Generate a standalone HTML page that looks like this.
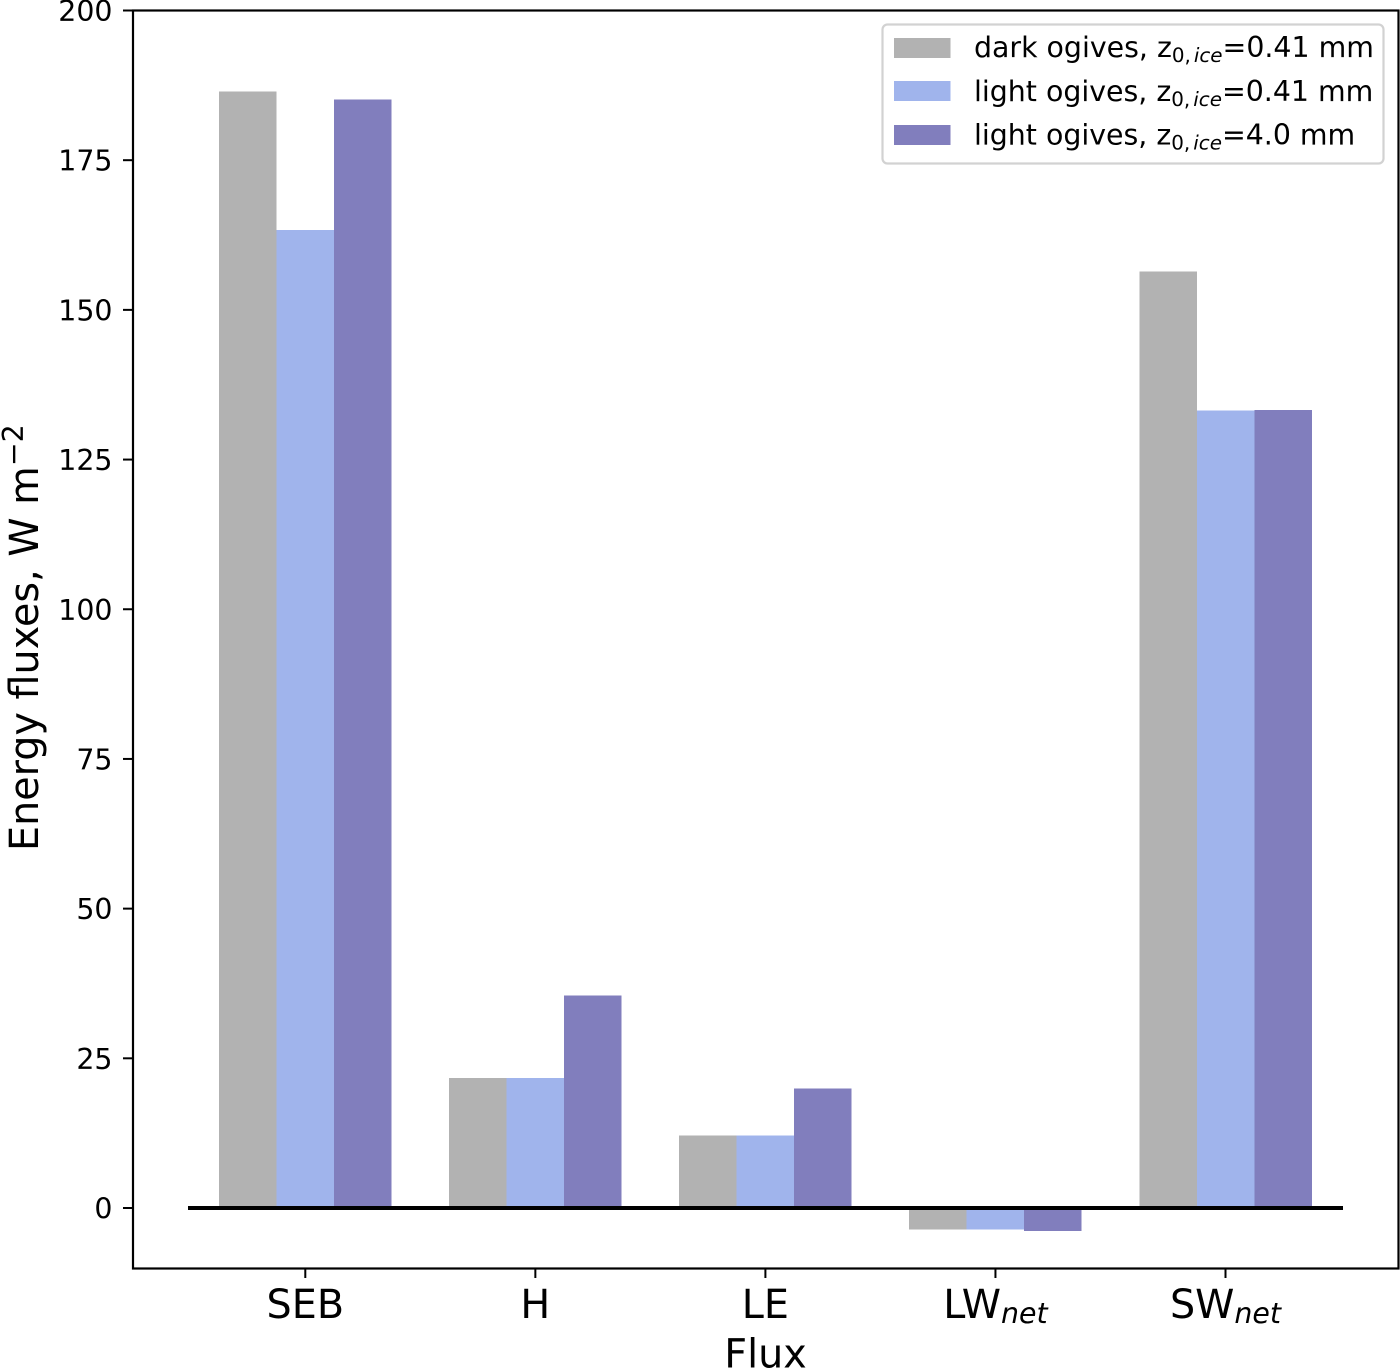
<!DOCTYPE html>
<html lang="en">
<head>
<meta charset="utf-8">
<title>Energy fluxes bar chart</title>
<style>
  html, body { margin: 0; padding: 0; background: #fff; }
  svg { display: block; }
  text { font-family: "DejaVu Sans", "Liberation Sans", sans-serif; fill: #000; }
  .sub { font-style: italic; }
</style>
</head>
<body>
<svg id="chart" xmlns="http://www.w3.org/2000/svg" width="1400" height="1370" viewBox="0 0 1400 1370">
  <rect x="0" y="0" width="1400" height="1370" fill="#fff"/>
  <g id="bars" shape-rendering="crispEdges"></g>
  <line id="zero-line" stroke="#000" stroke-width="4"/>
  <g id="ticks"></g>
  <rect x="133" y="10.5" width="1265.5" height="1258" fill="none" stroke="#000" stroke-width="2.2"/>

  <text x="38" y="851" font-size="39.7" transform="rotate(-90 38 851)">Energy fluxes, W m<tspan font-size="28.4" dy="-15">−2</tspan></text>
  <text x="765.5" y="1367.5" font-size="39.7" text-anchor="middle">Flux</text>

  <g>
    <rect x="882.5" y="24.5" width="501" height="139" rx="5" ry="5" fill="#fff" fill-opacity="0.9" stroke="#d2d2d2" stroke-width="2.2"/>
    <g>
      <rect x="894" y="38" width="56.5" height="20" fill="#b2b2b2"/>
      <text x="974" y="57" font-size="28.4">dark ogives, z<tspan font-size="19.9" dy="5">0,</tspan><tspan class="sub" font-size="19.9" dx="3">ice</tspan><tspan dy="-5">=0.41 mm</tspan></text>
    </g>
    <g>
      <rect x="894" y="81" width="56.5" height="20" fill="#a0b4ec"/>
      <text x="974" y="101" font-size="28.4">light ogives, z<tspan font-size="19.9" dy="5">0,</tspan><tspan class="sub" font-size="19.9" dx="3">ice</tspan><tspan dy="-5">=0.41 mm</tspan></text>
    </g>
    <g>
      <rect x="894" y="125" width="56.5" height="20" fill="#817ebd"/>
      <text x="974" y="144.7" font-size="28.4">light ogives, z<tspan font-size="19.9" dy="5">0,</tspan><tspan class="sub" font-size="19.9" dx="3">ice</tspan><tspan dy="-5">=4.0 mm</tspan></text>
    </g>
  </g>
</svg>
<script>
const categories = ['SEB', 'H', 'LE', 'LW', 'SW'];
const categorySubscripts = ['', '', '', 'net', 'net'];
const darkOgives041 = [186.5, 21.7, 12.1, -3.6, 156.4];
const lightOgives041 = [163.3, 21.7, 12.1, -3.6, 133.2];
const lightOgives40 = [185.1, 35.5, 20.0, -3.85, 133.3];
const yTickValues = [0, 25, 50, 75, 100, 125, 150, 175, 200];
const seriesKeys = ['dark-041', 'light-041', 'light-40'];
const seriesColors = ['#b2b2b2', '#a0b4ec', '#817ebd'];

const NS = 'http://www.w3.org/2000/svg';
const yScale = function (v) { return 1208 - v * 5.9875; };
const xScale = function (i) { return 305.3 + i * 230.05; };
const barWidth = 57.5;
const allSeries = [darkOgives041, lightOgives041, lightOgives40];

const barsGroup = document.getElementById('bars');
allSeries.forEach(function (values, s) {
  values.forEach(function (v, i) {
    const r = document.createElementNS(NS, 'rect');
    const y0 = yScale(0);
    const y1 = yScale(v);
    r.setAttribute('x', xScale(i) + (s - 1.5) * barWidth);
    r.setAttribute('y', Math.min(y0, y1));
    r.setAttribute('width', barWidth);
    r.setAttribute('height', Math.abs(y1 - y0));
    r.setAttribute('fill', seriesColors[s]);
    
    
    barsGroup.appendChild(r);
  });
});

const zero = document.getElementById('zero-line');
zero.setAttribute('x1', 188);
zero.setAttribute('x2', 1343);
zero.setAttribute('y1', yScale(0));
zero.setAttribute('y2', yScale(0));

const ticksGroup = document.getElementById('ticks');
yTickValues.forEach(function (v) {
  const y = yScale(v);
  const t = document.createElementNS(NS, 'line');
  t.setAttribute('x1', 123);
  t.setAttribute('x2', 133);
  t.setAttribute('y1', y);
  t.setAttribute('y2', y);
  t.setAttribute('stroke', '#000');
  t.setAttribute('stroke-width', 2);
  
  
  ticksGroup.appendChild(t);
  const l = document.createElementNS(NS, 'text');
  l.setAttribute('x', 112.5);
  l.setAttribute('y', y + 10.5);
  l.setAttribute('font-size', 28.4);
  l.setAttribute('text-anchor', 'end');
  l.textContent = String(v);
  
  
  ticksGroup.appendChild(l);
});

categories.forEach(function (c, i) {
  const x = xScale(i);
  const t = document.createElementNS(NS, 'line');
  t.setAttribute('x1', x);
  t.setAttribute('x2', x);
  t.setAttribute('y1', 1268);
  t.setAttribute('y2', 1278);
  t.setAttribute('stroke', '#000');
  t.setAttribute('stroke-width', 2);
  
  
  ticksGroup.appendChild(t);
  const l = document.createElementNS(NS, 'text');
  l.setAttribute('x', x);
  l.setAttribute('y', 1318);
  l.setAttribute('font-size', 39.7);
  l.setAttribute('text-anchor', 'middle');
  l.appendChild(document.createTextNode(c));
  if (categorySubscripts[i]) {
    const s = document.createElementNS(NS, 'tspan');
    s.setAttribute('class', 'sub');
    s.setAttribute('font-size', 28.4);
    s.setAttribute('dy', 5);
    s.textContent = categorySubscripts[i];
    l.appendChild(s);
  }
  
  
  ticksGroup.appendChild(l);
});
</script>
</body>
</html>
